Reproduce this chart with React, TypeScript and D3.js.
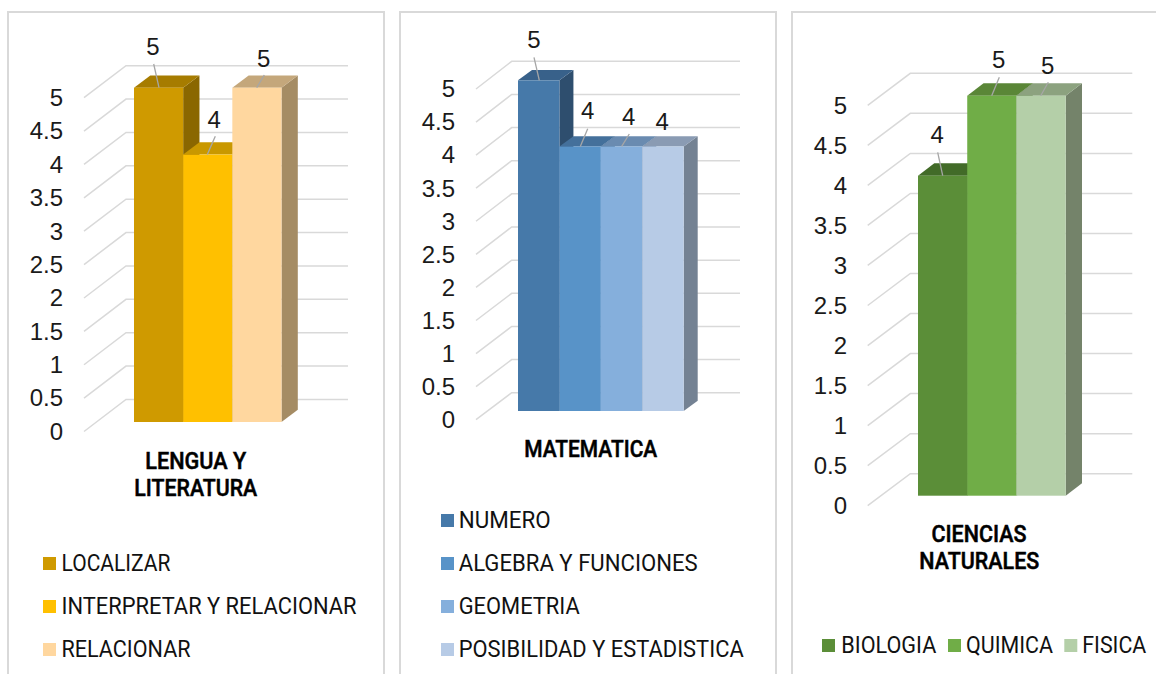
import React from "react";
import * as d3 from "d3";

const yTicks = [0, 0.5, 1, 1.5, 2, 2.5, 3, 3.5, 4, 4.5, 5];

const lenguaSeries = ["LOCALIZAR", "INTERPRETAR Y RELACIONAR", "RELACIONAR"];
const lenguaValues = [5, 4, 5];
const lenguaLabels = ["5", "4", "5"];

const mateSeries = ["NUMERO", "ALGEBRA Y FUNCIONES", "GEOMETRIA", "POSIBILIDAD Y ESTADISTICA"];
const mateValues = [5, 4, 4, 4];
const mateLabels = ["5", "4", "4", "4"];

const cienciasSeries = ["BIOLOGIA", "QUIMICA", "FISICA"];
const cienciasValues = [4, 5, 5];
const cienciasLabels = ["4", "5", "5"];

const NUM_FONT = "'Liberation Sans', Arial, sans-serif";
const TXT_FONT = "Roboto, sans-serif";

type Face = { front: string; top: string; side: string };
type Panel = {
  frame: [number, number];
  wall: { left: number; right: number; frontLeft: number; top: number; bottom: number; frontTop: number; frontBottom: number };
  bars: { x0: number; x1: number; top: number; bottom: number; dx: number; dy: number };
  tickRight: number;
  names: string[];
  values: number[];
  labels: string[];
  faces: Face[];
  leaders: ({ fx: number; x: number; y: number } | null)[];
  labelPos: { x: number; y: number }[];
  title: { t: string; x: number; y: number; w: number }[];
  legend: { sx: number; sy: number; tx: number; ty: number; w: number }[];
};

const panels: Panel[] = [
  {
    frame: [8, 384],
    wall: { left: 126, right: 348, frontLeft: 84, top: 65.7, bottom: 399.5, frontTop: 97.7, frontBottom: 431.5 },
    bars: { x0: 134, x1: 281.5, top: 87.7, bottom: 422, dx: 16.3, dy: 12.3 },
    tickRight: 63,
    names: lenguaSeries,
    values: lenguaValues,
    labels: lenguaLabels,
    faces: [
      { front: "#CF9A00", top: "#A67C00", side: "#8A6700" },
      { front: "#FFC000", top: "#C99800", side: "#A68000" },
      { front: "#FFD79F", top: "#C4A77B", side: "#A58C64" },
    ],
    leaders: [
      { fx: 159, x: 153.7, y: 64 },
      { fx: 207.3, x: 215.3, y: 136.3 },
      { fx: 256.7, x: 264.3, y: 75 },
    ],
    labelPos: [
      { x: 153, y: 55 },
      { x: 214.3, y: 127.7 },
      { x: 263.7, y: 66.7 },
    ],
    title: [
      { t: "LENGUA Y", x: 195.7, y: 469, w: 101 },
      { t: "LITERATURA", x: 195.7, y: 496, w: 123 },
    ],
    legend: [
      { sx: 43, sy: 557, tx: 61.5, ty: 570.7, w: 109 },
      { sx: 43, sy: 600, tx: 61.5, ty: 613.7, w: 295 },
      { sx: 43, sy: 643, tx: 61.5, ty: 656.7, w: 129 },
    ],
  },
  {
    frame: [400, 776],
    wall: { left: 511.7, right: 740, frontLeft: 476, top: 61.3, bottom: 392.7, frontTop: 89, frontBottom: 419.7 },
    bars: { x0: 518, x1: 683.7, top: 80.3, bottom: 411, dx: 14, dy: 10.3 },
    tickRight: 455,
    names: mateSeries,
    values: mateValues,
    labels: mateLabels,
    faces: [
      { front: "#4679A9", top: "#38618A", side: "#2E4E6E" },
      { front: "#5893C8", top: "#44709B", side: "#3A6186" },
      { front: "#85AFDC", top: "#6A8BB0", side: "#5F7C9C" },
      { front: "#B7CBE6", top: "#8A9BB3", side: "#748293" },
    ],
    leaders: [
      { fx: 539.3, x: 534, y: 57.3 },
      { fx: 580.3, x: 587.7, y: 128.7 },
      { fx: 621.7, x: 629.3, y: 134 },
      null,
    ],
    labelPos: [
      { x: 534, y: 48.3 },
      { x: 587.7, y: 119.3 },
      { x: 628.7, y: 125.3 },
      { x: 662.3, y: 130.3 },
    ],
    title: [{ t: "MATEMATICA", x: 590.7, y: 456.7, w: 133 }],
    legend: [
      { sx: 441, sy: 514, tx: 458.7, ty: 527.7, w: 92 },
      { sx: 441, sy: 557, tx: 458.7, ty: 570.7, w: 239 },
      { sx: 441, sy: 600, tx: 458.7, ty: 613.7, w: 121 },
      { sx: 441, sy: 643, tx: 458.7, ty: 656.7, w: 285 },
    ],
  },
  {
    frame: [792, 1170],
    wall: { left: 910.3, right: 1132.3, frontLeft: 867.7, top: 73.3, bottom: 473.7, frontTop: 105.3, frontBottom: 505.7 },
    bars: { x0: 918, x1: 1065.7, top: 95.7, bottom: 495.7, dx: 16.3, dy: 12.4 },
    tickRight: 847,
    names: cienciasSeries,
    values: cienciasValues,
    labels: cienciasLabels,
    faces: [
      { front: "#5B8E38", top: "#426B28", side: "#3A5E24" },
      { front: "#70AD47", top: "#5A8637", side: "#4E7530" },
      { front: "#B4CFA8", top: "#8CA27F", side: "#74836A" },
    ],
    leaders: [
      { fx: 942.7, x: 937.7, y: 152.3 },
      { fx: 991.7, x: 999.3, y: 77.3 },
      { fx: 1040.7, x: 1048.3, y: 82.3 },
    ],
    labelPos: [
      { x: 937.3, y: 143.3 },
      { x: 998.7, y: 68.3 },
      { x: 1047.7, y: 74 },
    ],
    title: [
      { t: "CIENCIAS", x: 979, y: 542.3, w: 95 },
      { t: "NATURALES", x: 979.3, y: 569.3, w: 120 },
    ],
    legend: [
      { sx: 822, sy: 639, tx: 841.3, ty: 652.7, w: 95 },
      { sx: 948, sy: 639, tx: 966, ty: 652.7, w: 87 },
      { sx: 1064.3, sy: 639, tx: 1082.3, ty: 652.7, w: 64 },
    ],
  },
];

function ChartPanel({ p }: { p: Panel }) {
  const { wall, bars } = p;
  const yBack = d3.scaleLinear().domain([0, 5]).range([wall.bottom, wall.top]);
  const yFront = d3.scaleLinear().domain([0, 5]).range([wall.frontBottom, wall.frontTop]);
  const yBar = d3.scaleLinear().domain([0, 5]).range([bars.bottom, bars.top]);
  const x = d3.scaleBand<string>().domain(p.names).range([bars.x0, bars.x1]).padding(0);
  const poly = d3.line();
  const grid = "#D9D9D9";
  return (
    <g>
      <path
        d={`M${p.frame[0]},674V12H${p.frame[1]}V674`}
        fill="none"
        stroke="#D9D9D9"
        strokeWidth={2}
      />
      {yTicks.map((t) => (
        <g key={t}>
          <path
            d={poly([
              [wall.frontLeft, yFront(t)],
              [wall.left, yBack(t)],
              [wall.right, yBack(t)],
            ]) as string}
            fill="none"
            stroke={grid}
            strokeWidth={1.5}
          />
          <text
            x={p.tickRight}
            y={yFront(t) + 8.3}
            textAnchor="end"
            fontFamily={NUM_FONT}
            fontSize={24}
            fill="#1a1a1a"
          >
            {String(t)}
          </text>
        </g>
      ))}
      {p.names.map((n, i) => {
        const x0 = x(n) as number;
        const x1 = x0 + x.bandwidth();
        const yt = yBar(p.values[i]);
        const yb = yBar(0);
        const f = p.faces[i];
        return (
          <g key={n}>
            <path
              d={(poly([
                [x1, yt],
                [x1 + bars.dx, yt - bars.dy],
                [x1 + bars.dx, yb - bars.dy],
                [x1, yb],
              ]) as string) + "Z"}
              fill={f.side}
            />
            <path
              d={(poly([
                [x0, yt],
                [x0 + bars.dx, yt - bars.dy],
                [x1 + bars.dx, yt - bars.dy],
                [x1, yt],
              ]) as string) + "Z"}
              fill={f.top}
            />
            <rect x={x0} y={yt} width={x.bandwidth()} height={yb - yt} fill={f.front} />
          </g>
        );
      })}
      {p.names.map((n, i) => {
        const l = p.leaders[i];
        const yt = yBar(p.values[i]);
        return (
          <g key={n}>
            {l && <line x1={l.fx} y1={yt} x2={l.x} y2={l.y} stroke="#A6A6A6" strokeWidth={1.3} />}
            <text
              x={p.labelPos[i].x}
              y={p.labelPos[i].y}
              textAnchor="middle"
              fontFamily={NUM_FONT}
              fontSize={24}
              fill="#1a1a1a"
            >
              {p.labels[i]}
            </text>
          </g>
        );
      })}
      {p.title.map((t) => (
        <text
          key={t.t}
          x={t.x - t.w / 2}
          y={t.y}
          textLength={t.w}
          lengthAdjust="spacingAndGlyphs"
          fontFamily={TXT_FONT}
          fontSize={23}
          fontWeight={500}
          stroke="#000"
          strokeWidth={0.5}
          fill="#000"
        >
          {t.t}
        </text>
      ))}
      {p.names.map((n, i) => {
        const lg = p.legend[i];
        return (
          <g key={n}>
            <rect x={lg.sx} y={lg.sy} width={13} height={13} fill={p.faces[i].front} />
            <text
              x={lg.tx}
              y={lg.ty}
              textLength={lg.w}
              lengthAdjust="spacingAndGlyphs"
              fontFamily={TXT_FONT}
              fontSize={23}
              fill="#111"
            >
              {n}
            </text>
          </g>
        );
      })}
    </g>
  );
}

export default function App() {
  return (
    <svg
      width={1156}
      height={674}
      viewBox="0 0 1156 674"
      style={{ position: "absolute", left: 0, top: 0, background: "#fff", display: "block" }}
    >
      {panels.map((p) => (
        <ChartPanel key={p.names[0]} p={p} />
      ))}
    </svg>
  );
}
